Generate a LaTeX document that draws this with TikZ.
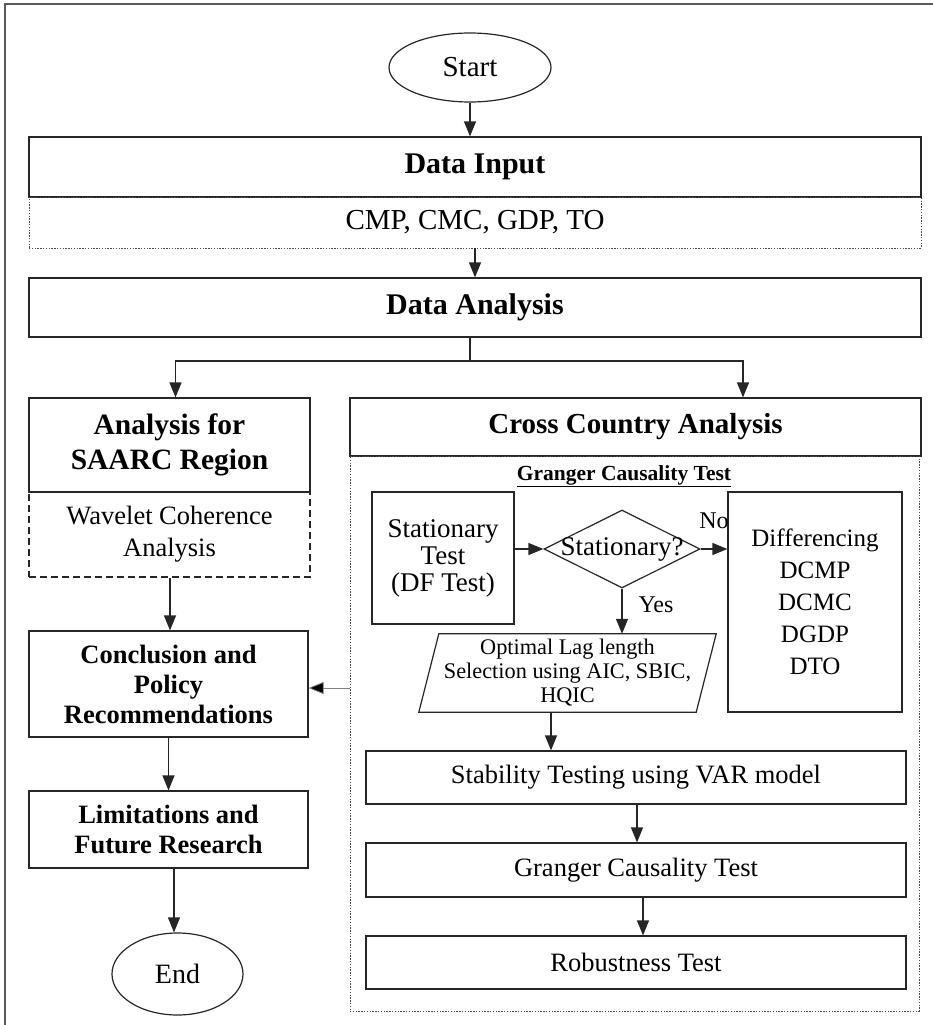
\documentclass[tikz,border=0pt]{standalone}
\usepackage{fontspec}
\setmainfont{Liberation Serif}
\usetikzlibrary{shapes.geometric,arrows.meta,calc}
\newcommand{\myfs}[2]{\fontsize{#1}{#2}\selectfont}
\begin{document}
\begin{tikzpicture}[x=1pt,y=-1pt,
  box/.style={draw=black!85, line width=1.2pt, inner sep=0pt, align=center},
  dotbox/.style={draw=black!70, line width=0.9pt, dash pattern=on 1.4pt off 1.4pt, inner sep=0pt, align=center},
  dashbox/.style={draw=black!85, line width=1.8pt, dash pattern=on 7pt off 4pt, inner sep=0pt, align=center},
  arr/.style={-{Triangle[length=15pt,width=12pt]}, line width=1.2pt, draw=black!85},
  thinarr/.style={-{Triangle[length=15pt,width=12pt,fill=black]}, line width=0.8pt, draw=gray},
  plain/.style={inner sep=0pt, align=center},
  reg/.style={font=\myfs{27}{27}}
]
\useasboundingbox (0,0) rectangle (933,1025);
% outer frame
\draw[gray!70!black, line width=2pt] (5,1025) -- (5,4) -- (933,4);

% top column
\node[box, ellipse, minimum width=162pt, minimum height=69pt, font=\myfs{29}{30}] (start) at (470,67.5) {Start};
\node[box, minimum width=892pt, minimum height=60pt, font=\myfs{30}{30}\bfseries] (din) at (475,167) {Data Input};
\node[dotbox, minimum width=892pt, minimum height=51pt, font=\myfs{29}{30}] (dvar) at (475,222.5) {CMP, CMC, GDP, TO};
\node[box, minimum width=892pt, minimum height=59pt, font=\myfs{30}{30}\bfseries] (dan) at (475,307.5) {Data Analysis};
\draw[arr] (start.south) -- (start.south |- din.north);
\draw[arr] (dvar.south) -- (dan.north);
\coordinate (br) at (470,361);

% left column
\node[box, minimum width=281pt, minimum height=94pt, font=\myfs{29.5}{35}\bfseries] (saarc) at (169.5,445) {Analysis for\\SAARC Region};
\node[dashbox, minimum width=281pt, minimum height=85pt, font=\myfs{26.5}{32}] (wave) at (169.5,534.5) {Wavelet Coherence\\Analysis};
\node[box, minimum width=279pt, minimum height=106pt, font=\myfs{26.5}{30}\bfseries] (concl) at (168.5,684) {Conclusion and\\Policy\\Recommendations};
\node[box, minimum width=279pt, minimum height=77pt, font=\myfs{26.5}{30}\bfseries] (lim) at (168.5,829.5) {Limitations and\\Future Research};
\node[box, ellipse, minimum width=131pt, minimum height=82pt, font=\myfs{28}{30}] (end) at (177.5,974) {End};

% right column
\node[box, minimum width=571pt, minimum height=58pt, font=\myfs{29}{30}\bfseries] (cross) at (635.5,427) {Cross Country Analysis};
\node[dotbox, minimum width=569pt, minimum height=555pt] (cont) at (634.5,733.5) {};
\node[plain, font=\myfs{21.5}{24}\bfseries] (title) at (624,476) {\underline{Granger Causality Test}};
\node[box, minimum width=142pt, minimum height=132pt, reg] (stt) at (443,558) {Stationary\\Test\\(DF Test)};
\node[box, diamond, minimum width=156pt, minimum height=78pt] (dia) at (622,549) {};
\node[plain, reg] (diat) at (dia.center) {Stationary?};
\node[box, minimum width=174pt, minimum height=220pt, font=\myfs{25}{32}] (diff) at (815,602) {Differencing\\DCMP\\DCMC\\DGDP\\DTO};
\node[plain, minimum width=277pt, minimum height=78pt, font=\myfs{22.3}{24}] (par) at (567.5,673) {Optimal Lag length\\Selection using AIC, SBIC,\\HQIC};
\draw[box] ([xshift=10pt]par.north west) -- ([xshift=10pt]par.north east) -- ([xshift=-10pt]par.south east) -- ([xshift=-10pt]par.south west) -- cycle;
\node[box, minimum width=540pt, minimum height=53pt, font=\myfs{26.5}{30}] (stab) at (636,777.5) {Stability Testing using VAR model};
\node[box, minimum width=540pt, minimum height=54pt, font=\myfs{26.5}{30}] (gct) at (636,870) {Granger Causality Test};
\node[box, minimum width=540pt, minimum height=53pt, font=\myfs{26.5}{30}] (rob) at (636,962.5) {Robustness Test};
\node[plain, font=\myfs{24}{24}] (no) at (714,521) {No};
\node[plain, font=\myfs{24}{24}] (yes) at (656,605) {Yes};

% connectors
\draw[line width=1.2pt, draw=black!85] (dan.south -| br) -- (br);
\draw[arr] (br) -| ([xshift=6pt]saarc.north);
\draw[arr] (br) -| ([xshift=107.5pt]cross.north);
\draw[arr] ([xshift=0.5pt]wave.south) -- ([xshift=0.5pt]wave.south |- concl.north);
\draw[arr] (concl.south) -- (concl.south |- lim.north);
\draw[arr] ([xshift=5.5pt]lim.south) -- ([xshift=5.5pt]lim.south |- end.north);
\draw[arr] (stt.east |- dia.west) -- (dia.west);
\draw[arr] (dia.east) -- (dia.east -| diff.west);
\draw[arr] (dia.south) -- (dia.south |- par.north);
\coordinate (p1) at ([xshift=-16.5pt]par.south);
\draw[arr] (p1) -- (p1 |- stab.north);
\draw[arr] ([xshift=1pt]stab.south) -- ([xshift=1pt]stab.south |- gct.north);
\draw[arr] ([xshift=7pt]gct.south) -- ([xshift=7pt]gct.south |- rob.north);
\draw[thinarr] (cont.west |- 0,688) -- (concl.east |- 0,688);
\end{tikzpicture}
\end{document}
